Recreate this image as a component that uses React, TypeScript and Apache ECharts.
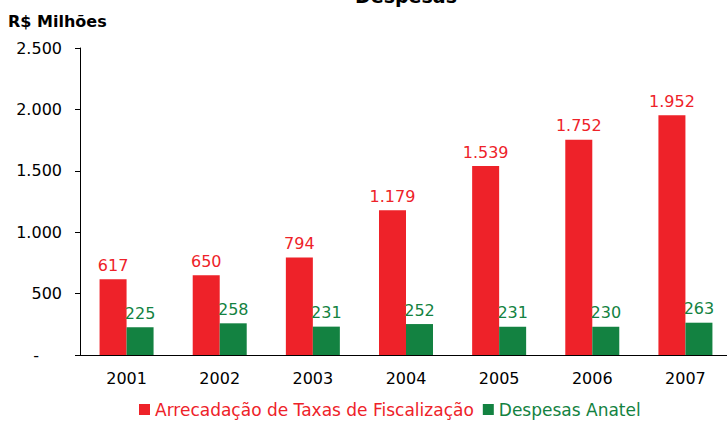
import React, { useEffect, useRef } from "react";
import * as echarts from "echarts";

const categories = ["2001", "2002", "2003", "2004", "2005", "2006", "2007"];
const arrecadacao = [617, 650, 794, 1179, 1539, 1752, 1952];
const despesas = [225, 258, 231, 252, 231, 230, 263];
const seriesNames = ["Arrecadação de Taxas de Fiscalização", "Despesas Anatel"];

const RED = "#EE2229";
const GREEN = "#138241";
const FONT = "DejaVu Sans";

const fmt = (v: number) =>
  v === 0 ? "-" : String(v).replace(/\B(?=(\d{3})+(?!\d))/g, ".");

export default function App() {
  const ref = useRef<HTMLDivElement>(null);
  useEffect(() => {
    document.body.style.margin = "0";
    const chart = echarts.init(ref.current!, null, { renderer: "svg" });
    chart.setOption({
      animation: false,
      textStyle: { fontFamily: FONT },
      graphic: [
        {
          type: "text",
          left: 8,
          top: 13,
          style: { text: "R$ Milhões", font: `bold 16px "${FONT}"`, fill: "#000" },
        },
        {
          type: "text",
          x: 406,
          y: 5,
          style: {
            text: "Despesas",
            font: `bold 19px "${FONT}"`,
            fill: "#000",
            align: "center",
            verticalAlign: "bottom",
          },
        },
      ],
      legend: {
        left: 134,
        top: 396,
        itemWidth: 11,
        itemHeight: 11,
        itemGap: 9,
        icon: "rect",
        textStyle: { fontSize: 17, fontFamily: FONT },
        data: [
          { name: seriesNames[0], textStyle: { color: RED } },
          { name: seriesNames[1], textStyle: { color: GREEN } },
        ],
      },
      grid: { left: 80, right: -5, top: 48, bottom: 66, outerBoundsMode: "none" },
      xAxis: {
        type: "category",
        data: categories,
        axisLine: { lineStyle: { color: "#000", width: 1 } },
        axisTick: { show: false },
        axisLabel: { color: "#000", fontSize: 16, fontFamily: FONT, margin: 15 },
      },
      yAxis: {
        type: "value",
        min: 0,
        max: 2500,
        interval: 500,
        axisLine: { show: true, lineStyle: { color: "#000", width: 1 } },
        axisTick: { show: true, length: 5, lineStyle: { color: "#000" } },
        splitLine: { show: false },
        axisLabel: {
          color: "#000",
          fontSize: 16,
          fontFamily: FONT,
          margin: 18,
          formatter: (v: number) => (v === 0 ? "{z|-}" : fmt(v)),
          rich: {
            z: { fontSize: 16, fontFamily: FONT, color: "#000", padding: [0, 23, 0, 0] },
          },
        },
      },
      series: [
        {
          name: seriesNames[0],
          type: "bar",
          data: arrecadacao,
          barWidth: 27,
          barGap: "0%",
          itemStyle: { color: RED },
          label: {
            show: true,
            position: "top",
            distance: 6,
            color: RED,
            fontSize: 16,
            fontFamily: FONT,
            formatter: (p: any) => fmt(p.value),
          },
        },
        {
          name: seriesNames[1],
          type: "bar",
          data: despesas,
          barWidth: 27,
          barGap: "0%",
          itemStyle: { color: GREEN },
          label: {
            show: true,
            position: "top",
            distance: 6,
            color: GREEN,
            fontSize: 16,
            fontFamily: FONT,
            formatter: (p: any) => fmt(p.value),
          },
        },
      ],
    });
    return () => chart.dispose();
  }, []);
  return <div ref={ref} style={{ width: 727, height: 421 }} />;
}
